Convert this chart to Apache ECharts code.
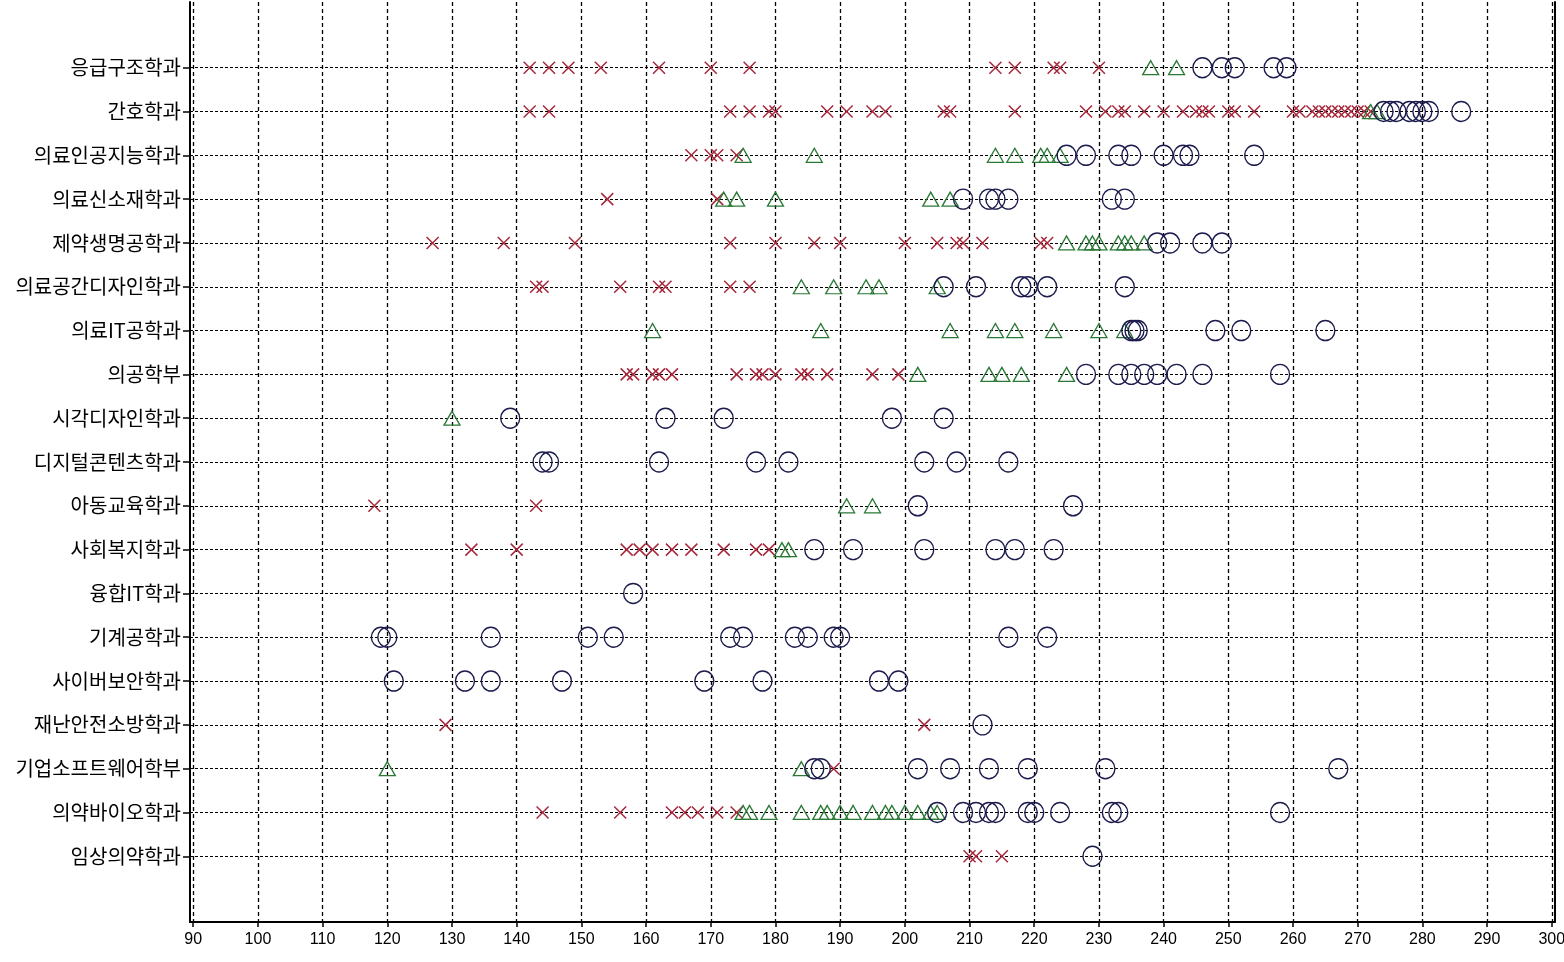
<!DOCTYPE html>
<html><head><meta charset="utf-8">
<script src="https://cdn.jsdelivr.net/npm/echarts@6/dist/echarts.min.js"></script>
<style>html,body{margin:0;padding:0;background:#fff}#c{width:1564px;height:962px}</style>
</head><body><div id="c"></div>
<script>
// categories, top to bottom
const categories = ['응급구조학과','간호학과','의료인공지능학과','의료신소재학과','제약생명공학과','의료공간디자인학과','의료IT공학과','의공학부','시각디자인학과','디지털콘텐츠학과','아동교육학과','사회복지학과','융합IT학과','기계공학과','사이버보안학과','재난안전소방학과','기업소프트웨어학부','의약바이오학과','임상의약학과'];

// red crosses, per category (same order)
const crossValues = [
  [142,145,148,153,162,170,176,214,217,223,224,230],
  [142,145,173,176,179,180,188,191,195,197,206,207,217,228,231,233,234,237,240,243,245,246,247,250,251,254,260,261,263,264,265,266,267,268,269,270,271,272],
  [167,170,171,174],
  [154,171],
  [127,138,149,173,180,186,190,200,205,208,209,212,221,222],
  [143,144,156,162,163,173,176],
  [],
  [157,158,161,162,164,174,177,178,180,184,185,188,195,199],
  [],
  [],
  [118,143],
  [133,140,157,159,161,164,167,172,177,179],
  [],
  [],
  [],
  [129,203],
  [189],
  [144,156,164,166,168,171,174],
  [210,211,215]
];

// green triangles
const triangleValues = [
  [238,242],
  [272,273],
  [175,186,214,217,221,222,224],
  [172,174,180,204,207],
  [225,228,229,230,233,234,235,237],
  [184,189,194,196,205],
  [161,187,207,214,217,223,230,234],
  [202,213,215,218,225],
  [130],
  [],
  [191,195],
  [181,182],
  [],
  [],
  [],
  [],
  [120,184],
  [175,176,179,184,187,188,190,192,195,197,198,200,202,204,205],
  []
];

// dark circles
const circleValues = [
  [246,249,251,257,259],
  [274,275,276,278,279,280,281,286],
  [225,228,233,235,240,243,244,254],
  [209,213,214,216,232,234],
  [239,241,246,249],
  [206,211,218,219,222,234],
  [235,235.5,236,248,252,265],
  [228,233,235,237,239,242,246,258],
  [139,163,172,198,206],
  [144,145,162,177,182,203,208,216],
  [202,226],
  [186,192,203,214,217,223],
  [158],
  [119,120,136,151,155,173,175,183,185,189,190,216,222],
  [121,132,136,147,169,178,196,199],
  [212],
  [186,187,202,207,213,219,231,267],
  [205,209,211,213,214,219,220,224,232,233,258],
  [229]
];

const xTickValues = [90,100,110,120,130,140,150,160,170,180,190,200,210,220,230,240,250,260,270,280,290,300];

const n = categories.length;
const yTickValues = categories.map((c, i) => n - i);
function toPoints(list) {
  const out = [];
  list.forEach((vals, i) => { vals.forEach(v => out.push([v, n - i])); });
  return out;
}

const chart = echarts.init(document.getElementById('c'), null, {renderer: 'canvas'});
chart.setOption({
  animation: false,
  backgroundColor: '#fff',
  grid: {left: 190, right: 9, top: 2, bottom: 40, containLabel: false, outerBoundsMode: 'none'},
  xAxis: {
    type: 'value', min: 89.5, max: 300.5,
    axisLine: {show: true, onZero: false, lineStyle: {color: '#000', width: 2}},
    axisTick: {show: true, length: 5, customValues: xTickValues, lineStyle: {color: '#000', width: 1.5}},
    axisLabel: {customValues: xTickValues, color: '#000', fontSize: 16, fontFamily: 'Liberation Sans, Arial', margin: 10, hideOverlap: false},
    splitLine: {show: true, lineStyle: {color: '#000', type: [4, 3], width: 1.3}}
  },
  yAxis: [{
    type: 'value', min: -0.5, max: 20.5,
    axisLine: {show: true, onZero: false, lineStyle: {color: '#000', width: 2}},
    axisTick: {show: true, length: 7, customValues: yTickValues, lineStyle: {color: '#000', width: 1.5}},
    axisLabel: {customValues: yTickValues, color: '#000', fontSize: 20, fontFamily: 'Noto Sans CJK KR', margin: 9,
      formatter: v => categories[n - Math.round(v)] || ''},
    splitLine: {show: true, lineStyle: {color: '#000', type: [3, 2], width: 1}}
  }, {
    type: 'value', min: -0.5, max: 20.5, position: 'right',
    axisLine: {show: true, onZero: false, lineStyle: {color: '#000', width: 2}},
    axisTick: {show: false}, axisLabel: {show: false}, splitLine: {show: false}
  }],
  series: [{
    type: 'scatter', name: 'x', data: toPoints(crossValues),
    symbol: 'path://M0,0L10,10M10,0L0,10', symbolSize: 12,
    itemStyle: {color: 'rgba(0,0,0,0)', borderColor: '#a8283c', borderWidth: 1.5, opacity: 1}
  }, {
    type: 'scatter', name: 't', data: toPoints(triangleValues),
    symbol: 'triangle', symbolSize: [16, 14],
    itemStyle: {color: 'rgba(0,0,0,0)', borderColor: '#2a7a36', borderWidth: 1.3, opacity: 1}
  }, {
    type: 'scatter', name: 'o', data: toPoints(circleValues),
    symbol: 'circle', symbolSize: [19, 20],
    itemStyle: {color: 'rgba(0,0,0,0)', borderColor: '#1b1b4d', borderWidth: 1.4, opacity: 1}
  }]
});
</script>
</body></html>
